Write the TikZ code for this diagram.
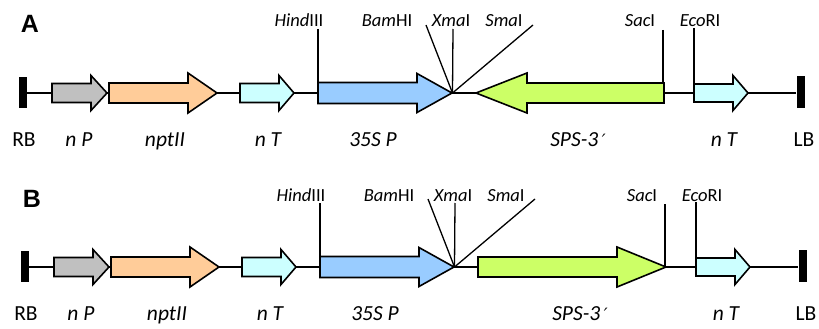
\documentclass[tikz,border=0pt]{standalone}
\usepackage{fontspec}
\setmainfont{Carlito}
\newfontfamily\panelfont{Liberation Sans}
\newfontfamily\primefont{DejaVu Sans}
\definecolor{cgray}{HTML}{C0C0C0}
\definecolor{cpeach}{HTML}{FFCC99}
\definecolor{ccyan}{HTML}{CCFFFF}
\definecolor{cblue}{HTML}{99CCFF}
\definecolor{clime}{HTML}{CCFF66}
\tikzset{
  arrowbox/.style={draw=black,line width=1.6pt,line join=miter},
  bar/.style={fill=black,draw=none,minimum width=8pt,minimum height=31pt,inner sep=0pt},
  backbone/.style={line width=2.4pt},
  site/.style={line width=1.3pt},
  sitelabel/.style={font=\fontsize{18.5}{18.5}\selectfont,anchor=base,inner sep=0pt},
  partlabel/.style={font=\fontsize{21.5}{21.5}\selectfont\itshape,anchor=base,inner sep=0pt},
  endlabel/.style={font=\fontsize{21.5}{21.5}\selectfont,anchor=base,inner sep=0pt},
  paneltag/.style={font=\fontsize{25}{25}\selectfont\panelfont\bfseries,anchor=base,inner sep=0pt}
}
% #1 start x, #2 tip x, #3 head start x, #4 body half, #5 head half, #6 colour (centre y = 93)
\newcommand{\genearrow}[6]{%
  \draw[arrowbox,fill=#6] (#1,93-#4) -- (#3,93-#4) -- (#3,93-#5) -- (#2,93)
    -- (#3,93+#5) -- (#3,93+#4) -- (#1,93+#4) -- cycle;}
\newcommand{\panelcommon}{%
  \node[bar] (rb) at (23,92.5) {};
  \node[bar,minimum height=32pt] (lb) at (800.5,92) {};
  \draw[backbone] (rb.east |- 0,93) -- (lb.west |- 0,93);
  \genearrow{52}{107}{91}{9.5}{17.5}{cgray}
  \genearrow{109}{217}{188}{10}{20}{cpeach}
  \genearrow{240}{294}{279}{9.5}{17.5}{ccyan}
  \genearrow{318}{452}{417}{10.5}{19.5}{cblue}
  \genearrow{694}{748}{733}{9}{17.5}{ccyan}
  \coordinate (cut1) at (452.5,93);
  \coordinate (hind) at (318,93);
  \coordinate (hindtop) at (318,29);
  \coordinate (bamtop) at (426,25);
  \coordinate (xmatop) at (453,29);
  \coordinate (smatop) at (533,25);
  \coordinate (sac) at (663,93);
  \coordinate (sactop) at (663,30);
  \coordinate (eco) at (694,93);
  \coordinate (ecotop) at (694,28);
  \draw[site] (hindtop) -- (hind);
  \draw[site] (bamtop) -- (cut1);
  \draw[site] (xmatop) -- (cut1);
  \draw[site] (smatop) -- (cut1);
  \draw[site] (sactop) -- (sac);
  \draw[site] (ecotop) -- (eco);
  \node[sitelabel] (lhind) at (299,27) {\textit{Hind}III};
  \node[sitelabel] (lbam) at (387,27) {\textit{Bam}HI};
  \node[sitelabel] (lxma) at (451,27) {\textit{Xma}I};
  \node[sitelabel] (lsma) at (504,27) {\textit{Sma}I};
  \node[sitelabel] (lsac) at (640,27) {\textit{Sac}I};
  \node[sitelabel] (leco) at (700,27) {\textit{Eco}RI};
  \node[endlabel] (trb) at (24,146) {RB};
  \node[partlabel] (tnp) at (79,146) {n P};
  \node[partlabel] (tnpt) at (165,146) {nptII};
  \node[partlabel] (tnt) at (268,146) {n T};
  \node[partlabel] (t35) at (373,146) {35S P};
  \node[partlabel] (tsps) at (578,146) {SPS-3\,{\primefont\fontsize{17}{17}\selectfont ′}};
  \node[partlabel] (tnt2) at (724,146) {n T};
  \node[endlabel] (tlb) at (804,146) {LB};
}
\begin{document}
\begin{tikzpicture}[x=1pt,y=-1pt]
\useasboundingbox (0,0) rectangle (819,329);
\begin{scope}
  \panelcommon
  \node[paneltag] (tagA) at (30,33) {A};
  % antisense SPS fragment
  \draw[arrowbox,fill=clime] (664,83) -- (527,83) -- (527,73) -- (476,93)
    -- (527,113) -- (527,103) -- (664,103) -- cycle;
\end{scope}
\begin{scope}[shift={(2,174)}]
  \panelcommon
  \node[paneltag] (tagB) at (30,33) {B};
  % sense SPS fragment
  \draw[arrowbox,fill=clime] (476,83) -- (615,83) -- (615,73) -- (664,93)
    -- (615,113) -- (615,103) -- (476,103) -- cycle;
\end{scope}
\end{tikzpicture}
\end{document}
